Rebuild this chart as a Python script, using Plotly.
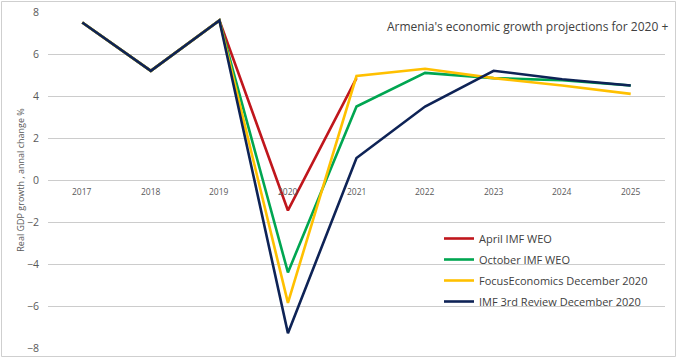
import plotly.graph_objects as go

years = ["2017", "2018", "2019", "2020", "2021", "2022", "2023", "2024", "2025"]
april_imf_weo = [7.5, 5.2, 7.6, -1.45, 4.85, None, None, None, None]
october_imf_weo = [7.5, 5.2, 7.6, -4.4, 3.5, 5.1, 4.85, 4.75, 4.5]
focus_economics = [7.5, 5.2, 7.6, -5.85, 4.95, 5.3, 4.85, 4.5, 4.1]
imf_3rd_review = [7.5, 5.2, 7.6, -7.3, 1.05, 3.5, 5.2, 4.8, 4.5]

series_names = ["April IMF WEO", "October IMF WEO", "FocusEconomics December 2020", "IMF 3rd Review December 2020"]
series_values = [april_imf_weo, october_imf_weo, focus_economics, imf_3rd_review]
series_colors = ["#C0161C", "#00A651", "#FFC000", "#0E2356"]

y_ticks = [-8, -6, -4, -2, 0, 2, 4, 6, 8]

W, H = 679, 360
L, R, T, B = 48, 14, 12, 12
pw, ph = W - L - R, H - T - B

fig = go.Figure()
for k, (name, vals, col) in enumerate(zip(series_names, series_values, series_colors)):
    fig.add_trace(go.Scatter(x=years, y=vals, name=name, mode="lines", legendgroup=f"g{k}",
                             line=dict(color=col, width=2.6), connectgaps=False))

for i, yr in enumerate(years):
    fig.add_annotation(x=i, y=0, xref="x", yref="y", text=yr, showarrow=False,
                       yanchor="top", yshift=-4, font=dict(size=8.5, color="#595959"))

fig.add_annotation(xref="paper", yref="paper", x=(670 - L) / pw, y=(H - B - 27) / ph,
                   xanchor="right", yanchor="middle", showarrow=False,
                   text="Armenia's economic growth projections for 2020 +",
                   font=dict(size=12, color="#404040"))

fig.add_shape(type="rect", xref="paper", yref="paper",
              x0=(1.5 - L) / pw, x1=(675.5 - L) / pw, y0=(H - B - 356.5) / ph, y1=(H - B - 1.5) / ph,
              line=dict(color="#cfcfcf", width=1), fillcolor="rgba(0,0,0,0)")

fig.update_layout(
    width=W, height=H,
    margin=dict(l=L, r=R, t=T, b=B, autoexpand=False),
    plot_bgcolor="white", paper_bgcolor="white",
    font=dict(family="Open Sans, Liberation Sans, sans-serif", color="#595959"),
    showlegend=True,
    legend=dict(x=(439 - L) / pw, y=(H - B - 224) / ph, xanchor="left", yanchor="top",
                bgcolor="rgba(0,0,0,0)", font=dict(size=11, color="#404040"),
                itemwidth=30, traceorder="grouped", tracegroupgap=2),
    xaxis=dict(type="category", range=[-0.5, 8.5], showticklabels=False, showgrid=False,
               zeroline=False, showline=False, fixedrange=True, automargin=False),
    yaxis=dict(range=[-8, 8], tickvals=y_ticks, showgrid=True, gridcolor="#cccccc",
               gridwidth=1, zeroline=True, zerolinecolor="#cccccc", zerolinewidth=1,
               ticks="outside", ticklen=6, tickcolor="rgba(0,0,0,0)", automargin=False,
               tickfont=dict(size=10.5, color="#595959"),
               title=dict(text="Real GDP growth , annal change %", standoff=0,
                          font=dict(size=9, color="#595959"))),
)

fig.write_html("out.html", config={"displayModeBar": False},
               post_script="document.body.style.margin='0';document.body.style.padding='0';")
